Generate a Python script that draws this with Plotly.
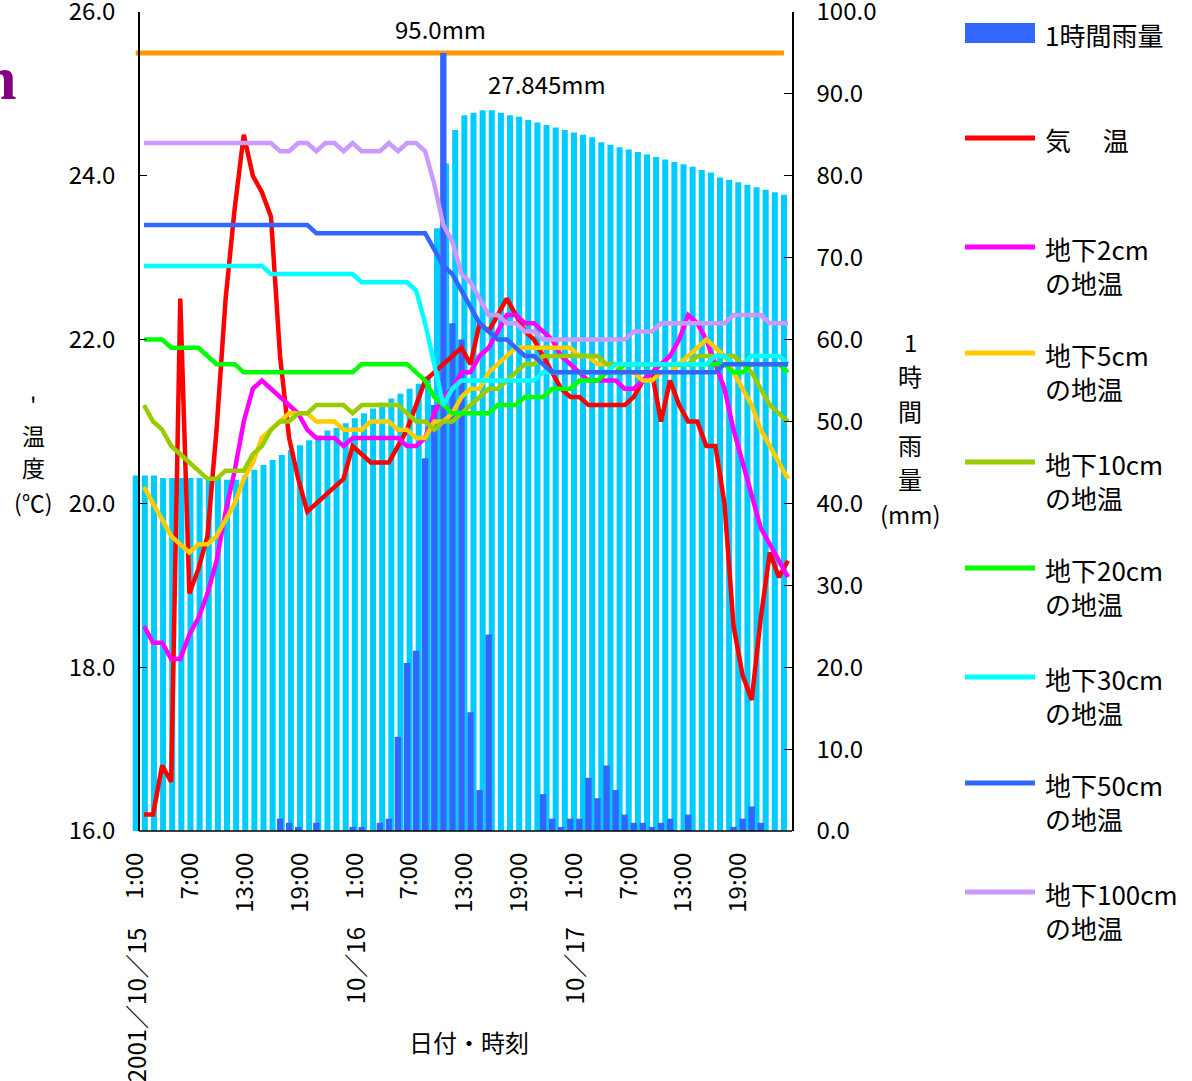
import plotly.graph_objects as go

W, H = 1192, 1081

# ---------------- data ----------------
days = ["10/15", "10/16", "10/17"]
categories = [f"{d} {h}:00" for d in days for h in range(1, 25)]
tick_times = ["1:00", "7:00", "13:00", "19:00"]
date_labels = ["2001／10／15", "10／16", "10／17"]

temp_ticks = [16, 18, 20, 22, 24, 26]
rain_ticks = [0, 10, 20, 30, 40, 50, 60, 70, 80, 90, 100]

# 1時間雨量 (mm)
rain_1h = [0, 0, 0, 0, 0, 0, 0, 0, 0, 0,
           0, 0, 0, 0, 0, 1.5, 1.0, 0.5, 0, 1.0,
           0, 0, 0, 0.5, 0.5, 0, 1.0, 1.5, 11.5, 20.5,
           22.0, 45.5, 52.0, 95.0, 62.0, 60.0, 14.5, 5.0, 24.0, 0,
           0, 0, 0, 0, 4.5, 1.5, 0.5, 1.5, 1.5, 6.5,
           4.0, 8.0, 5.0, 2.0, 1.0, 1.0, 0.5, 1.0, 1.5, 0,
           2.0, 0, 0, 0, 0, 0.5, 1.5, 3.0, 1.0, 0,
           0, 0]

# light-blue bars (mm, no legend entry)
rain_index = [43.4, 43.4, 43.4, 43.1, 43.1, 43.1, 43.1, 43.1, 43.1, 43.1,
              42.9, 42.9, 43.4, 44.1, 44.7, 45.3, 45.9, 46.5, 47.1, 47.7,
              48.3, 48.9, 49.2, 49.8, 50.4, 51.0, 51.6, 52.3, 52.8, 53.4,
              54.0, 54.6, 55.5, 73.6, 81.5, 85.6, 87.4, 87.7, 88.0, 88.0,
              87.7, 87.4, 87.2, 86.8, 86.5, 86.2, 85.9, 85.6, 85.3, 85.0,
              84.7, 84.1, 83.8, 83.5, 83.2, 82.9, 82.6, 82.3, 82.0, 81.7,
              81.4, 81.1, 80.7, 80.4, 79.8, 79.5, 79.2, 78.9, 78.6, 78.3,
              78.0, 77.7]

max_rain = 95.0
max_rain_label = "95.0mm"
index_label = "27.845mm"

air_temp = [16.2, 16.2, 16.8, 16.6, 22.5, 18.9, 19.2, 19.6, 20.9, 22.5,
            23.6, 24.5, 24.0, 23.8, 23.5, 21.8, 20.8, 20.3, 19.9, 20.0,
            20.1, 20.2, 20.3, 20.7, 20.6, 20.5, 20.5, 20.5, 20.7, 20.9,
            21.2, 21.5, 21.6, 21.7, 21.8, 21.9, 21.7, 22.2, 22.1, 22.3,
            22.5, 22.3, 22.1, 22.0, 21.8, 21.6, 21.4, 21.3, 21.3, 21.2,
            21.2, 21.2, 21.2, 21.2, 21.3, 21.5, 21.6, 21.0, 21.5, 21.2,
            21.0, 21.0, 20.7, 20.7, 20.0, 18.5, 17.9, 17.6, 18.6, 19.4,
            19.1, 19.3]

soil_2cm = [18.5, 18.3, 18.3, 18.1, 18.1, 18.4, 18.6, 18.9, 19.3, 19.9,
            20.4, 21.0, 21.4, 21.5, 21.4, 21.3, 21.2, 21.1, 20.9, 20.8,
            20.8, 20.8, 20.7, 20.8, 20.8, 20.8, 20.8, 20.8, 20.8, 20.7,
            20.7, 20.8, 21.1, 21.3, 21.4, 21.6, 21.6, 21.8, 21.9, 22.1,
            22.3, 22.3, 22.2, 22.2, 22.1, 22.0, 21.8, 21.7, 21.6, 21.5,
            21.5, 21.5, 21.5, 21.4, 21.4, 21.5, 21.6, 21.7, 21.8, 22.0,
            22.3, 22.2, 22.0, 21.7, 21.4, 20.9, 20.5, 20.1, 19.7, 19.5,
            19.3, 19.1]

soil_5cm = [20.2, 20.0, 19.8, 19.6, 19.5, 19.4, 19.5, 19.5, 19.6, 19.8,
            20.0, 20.3, 20.5, 20.8, 20.9, 21.0, 21.1, 21.1, 21.1, 21.0,
            21.0, 21.0, 20.9, 20.9, 20.9, 21.0, 21.0, 21.0, 20.9, 20.9,
            20.8, 20.8, 21.0, 21.0, 21.1, 21.3, 21.4, 21.4, 21.6, 21.7,
            21.8, 21.9, 21.9, 21.9, 21.9, 21.9, 21.9, 21.9, 21.8, 21.8,
            21.7, 21.7, 21.7, 21.6, 21.6, 21.5, 21.5, 21.6, 21.6, 21.7,
            21.8, 21.9, 22.0, 21.9, 21.8, 21.6, 21.4, 21.2, 20.9, 20.7,
            20.5, 20.3]

soil_10cm = [21.2, 21.0, 20.9, 20.7, 20.6, 20.5, 20.4, 20.3, 20.3, 20.4,
             20.4, 20.4, 20.6, 20.7, 20.9, 21.0, 21.0, 21.1, 21.1, 21.2,
             21.2, 21.2, 21.2, 21.1, 21.2, 21.2, 21.2, 21.2, 21.2, 21.1,
             21.0, 21.0, 20.9, 21.0, 21.0, 21.1, 21.2, 21.3, 21.4, 21.4,
             21.5, 21.6, 21.7, 21.7, 21.8, 21.8, 21.8, 21.8, 21.8, 21.8,
             21.8, 21.7, 21.7, 21.7, 21.7, 21.7, 21.7, 21.7, 21.7, 21.7,
             21.7, 21.8, 21.8, 21.8, 21.8, 21.8, 21.7, 21.6, 21.4, 21.2,
             21.1, 21.0]

soil_20cm = [22.0, 22.0, 22.0, 21.9, 21.9, 21.9, 21.9, 21.8, 21.7, 21.7,
             21.7, 21.6, 21.6, 21.6, 21.6, 21.6, 21.6, 21.6, 21.6, 21.6,
             21.6, 21.6, 21.6, 21.6, 21.7, 21.7, 21.7, 21.7, 21.7, 21.7,
             21.6, 21.5, 21.3, 21.2, 21.1, 21.1, 21.1, 21.1, 21.1, 21.2,
             21.2, 21.2, 21.3, 21.3, 21.3, 21.4, 21.4, 21.4, 21.5, 21.5,
             21.5, 21.6, 21.6, 21.7, 21.7, 21.7, 21.7, 21.7, 21.7, 21.7,
             21.7, 21.7, 21.7, 21.7, 21.7, 21.6, 21.6, 21.7, 21.7, 21.7,
             21.7, 21.6]

soil_30cm = [22.9, 22.9, 22.9, 22.9, 22.9, 22.9, 22.9, 22.9, 22.9, 22.9,
             22.9, 22.9, 22.9, 22.9, 22.8, 22.8, 22.8, 22.8, 22.8, 22.8,
             22.8, 22.8, 22.8, 22.8, 22.7, 22.7, 22.7, 22.7, 22.7, 22.7,
             22.6, 22.2, 21.7, 21.2, 21.4, 21.5, 21.5, 21.5, 21.5, 21.5,
             21.5, 21.5, 21.5, 21.5, 21.6, 21.6, 21.6, 21.6, 21.6, 21.6,
             21.6, 21.6, 21.7, 21.7, 21.7, 21.7, 21.7, 21.7, 21.7, 21.7,
             21.7, 21.7, 21.7, 21.8, 21.8, 21.7, 21.7, 21.8, 21.8, 21.8,
             21.8, 21.7]

soil_50cm = [23.4, 23.4, 23.4, 23.4, 23.4, 23.4, 23.4, 23.4, 23.4, 23.4,
             23.4, 23.4, 23.4, 23.4, 23.4, 23.4, 23.4, 23.4, 23.4, 23.3,
             23.3, 23.3, 23.3, 23.3, 23.3, 23.3, 23.3, 23.3, 23.3, 23.3,
             23.3, 23.3, 23.1, 22.9, 22.8, 22.6, 22.4, 22.2, 22.1, 22.0,
             22.0, 21.9, 21.8, 21.8, 21.7, 21.6, 21.6, 21.6, 21.6, 21.6,
             21.6, 21.6, 21.6, 21.6, 21.6, 21.6, 21.6, 21.6, 21.6, 21.6,
             21.6, 21.6, 21.6, 21.6, 21.7, 21.7, 21.7, 21.7, 21.7, 21.7,
             21.7, 21.7]

soil_100cm = [24.4, 24.4, 24.4, 24.4, 24.4, 24.4, 24.4, 24.4, 24.4, 24.4,
              24.4, 24.4, 24.4, 24.4, 24.4, 24.3, 24.3, 24.4, 24.4, 24.3,
              24.4, 24.4, 24.3, 24.4, 24.3, 24.3, 24.3, 24.4, 24.3, 24.4,
              24.4, 24.3, 23.9, 23.4, 23.2, 22.8, 22.7, 22.5, 22.3, 22.3,
              22.2, 22.2, 22.1, 22.1, 22.0, 22.0, 22.0, 22.0, 22.0, 22.0,
              22.0, 22.0, 22.0, 22.0, 22.1, 22.1, 22.1, 22.2, 22.2, 22.2,
              22.2, 22.2, 22.2, 22.2, 22.2, 22.3, 22.3, 22.3, 22.3, 22.2,
              22.2, 22.2]

bar_name = "1時間雨量"
line_names = ["気　 温", "地下2cm<br>の地温", "地下5cm<br>の地温", "地下10cm<br>の地温",
              "地下20cm<br>の地温", "地下30cm<br>の地温", "地下50cm<br>の地温", "地下100cm<br>の地温"]
line_values = [air_temp, soil_2cm, soil_5cm, soil_10cm, soil_20cm, soil_30cm, soil_50cm, soil_100cm]

temp_title_lines = ["'", "温", "度", "(℃)"]
rain_title_lines = ["1", "時", "間", "雨", "量", "(mm)"]
x_title = "日付・時刻"

# ---------------- style ----------------
FONT = "Noto Sans CJK JP"
bar_color = "#3366FF"
index_color = "#00CCFF"
max_color = "#FF9900"
line_colors = ["#FF0000", "#FF00FF", "#FFCC00", "#99CC00", "#00FF00", "#00FFFF", "#3366FF", "#CC99FF"]


def px(x):
    return x / W


def py(y):
    return 1 - y / H


fig = go.Figure()

# light-blue bars (primary category axis)
fig.add_trace(go.Bar(x=categories, y=rain_index, xaxis="x", yaxis="y",
                     marker=dict(color=index_color, line=dict(width=0)),
                     width=0.66, name="雨量指標", showlegend=False))
# max-rain reference line
fig.add_trace(go.Scatter(x=[categories[0], categories[-1]], y=[max_rain, max_rain],
                         xaxis="x", yaxis="y", mode="lines",
                         line=dict(color=max_color, width=5), name=max_rain_label,
                         showlegend=False))
# hourly rain bars
fig.add_trace(go.Bar(x=categories, y=rain_1h, xaxis="x2", yaxis="y",
                     marker=dict(color=bar_color, line=dict(width=0)),
                     width=0.7, name=bar_name, showlegend=False))
# temperature lines
for name, vals, col in zip(line_names, line_values, line_colors):
    fig.add_trace(go.Scatter(x=categories, y=vals, xaxis="x2", yaxis="y2", mode="lines",
                             line=dict(color=col, width=4.5), name=name.replace("<br>", ""),
                             showlegend=False))

tickvals = [categories[i] for i in range(0, len(categories), 6)]
ticktext = tick_times * len(days)

tickfont = dict(family=FONT, size=24, color="black")
fig.update_layout(
    template="none",
    width=W, height=H,
    margin=dict(l=0, r=0, t=0, b=0, pad=0, autoexpand=False),
    paper_bgcolor="white", plot_bgcolor="rgba(0,0,0,0)",
    showlegend=False, barmode="overlay",
    font=dict(family=FONT, size=24, color="black"),
    xaxis=dict(type="category", domain=[px(131), px(792)], range=[-0.5148, 71.884],
               anchor="y", tickmode="array", tickvals=tickvals, ticktext=ticktext,
               tickangle=-90, ticks="", showline=False, showgrid=False, zeroline=False,
               automargin=False, ticklabelstandoff=16, ticklabeloverflow="allow",
               tickfont=tickfont),
    xaxis2=dict(type="category", overlaying="x", range=[-1.4333, 71.4443],
                anchor="y", visible=False, showgrid=False, zeroline=False, automargin=False),
    yaxis=dict(domain=[py(831), py(12)], range=[0, 100], side="right", anchor="x",
               tickmode="array", tickvals=rain_ticks, tickformat=".1f",
               ticks="inside", ticklen=8, tickcolor="black", tickwidth=1,
               showline=True, linecolor="black", linewidth=1.5,
               showgrid=False, zeroline=False, automargin=False,
               ticklabelstandoff=18, ticklabeloverflow="allow", tickfont=tickfont),
    yaxis2=dict(overlaying="y", side="left", anchor="free", position=px(139),
                range=[16, 26], tickmode="array", tickvals=temp_ticks, tickformat=".1f",
                ticks="inside", ticklen=7, tickcolor="black", tickwidth=1,
                showline=True, linecolor="black", linewidth=1.5,
                showgrid=False, zeroline=False, automargin=False,
                ticklabelstandoff=18, ticklabeloverflow="allow", tickfont=tickfont),
)

shapes = [dict(type="line", xref="paper", yref="paper", x0=px(139), x1=px(792),
               y0=py(831), y1=py(831), line=dict(color="black", width=1.5), layer="above")]
ann = []


def label(text, x, y, size=24, **kw):
    d = dict(text=text, x=px(x), y=py(y), xref="paper", yref="paper",
             xanchor="center", yanchor="middle", showarrow=False, font=dict(size=size))
    d.update(kw)
    return d


# value labels
ann.append(label(max_rain_label, 440.5, 28.5))
ann.append(label(index_label, 546.7, 83))

# axis titles (stacked vertically, one glyph row per line)
for t, yy in zip(temp_title_lines, [404, 435, 467, 502]):
    ann.append(label(t, 33, yy, size=23))
for t, yy in zip(rain_title_lines, [341, 375, 410, 444, 478, 513]):
    ann.append(label(t, 910, yy))
ann.append(label(x_title, 469, 1041))

# date labels under the time ticks
for d, lab in zip(days, date_labels):
    ann.append(dict(text=lab, x=categories.index(f"{d} 1:00"), xref="x", y=py(925), yref="paper",
                    xanchor="center", yanchor="top", textangle=-90, showarrow=False,
                    font=dict(size=24)))

# cropped title fragment at the top-left edge
ann.append(dict(text="<b>n</b>", x=px(18), y=py(78), xref="paper", yref="paper",
                xanchor="right", yanchor="middle", showarrow=False,
                font=dict(family="Liberation Serif", size=62, color="#800080")))

# legend (right side)
legend_y = [33, 138, 247, 353, 462, 568, 677, 783, 892]
leg_labels = [bar_name] + line_names
leg_colors = [bar_color] + line_colors
for i, (lab, col, yc) in enumerate(zip(leg_labels, leg_colors, legend_y)):
    if i == 0:
        shapes.append(dict(type="rect", xref="paper", yref="paper", x0=px(965), x1=px(1035),
                           y0=py(yc + 10), y1=py(yc - 10), fillcolor=col, line=dict(width=0)))
    else:
        shapes.append(dict(type="line", xref="paper", yref="paper", x0=px(965), x1=px(1035),
                           y0=py(yc), y1=py(yc), line=dict(color=col, width=5)))
    nlines = lab.count("<br>") + 1
    tc = yc + 1.5 + (nlines - 1) * 16.7
    ann.append(dict(text=lab, x=px(1043), y=py(tc), xref="paper", yref="paper",
                    xanchor="left", yanchor="middle", align="left", showarrow=False,
                    font=dict(size=26)))

fig.update_layout(shapes=shapes, annotations=ann)

fig.write_html("out.html", config={"displayModeBar": False},
               post_script="document.body.style.margin='0px';")
